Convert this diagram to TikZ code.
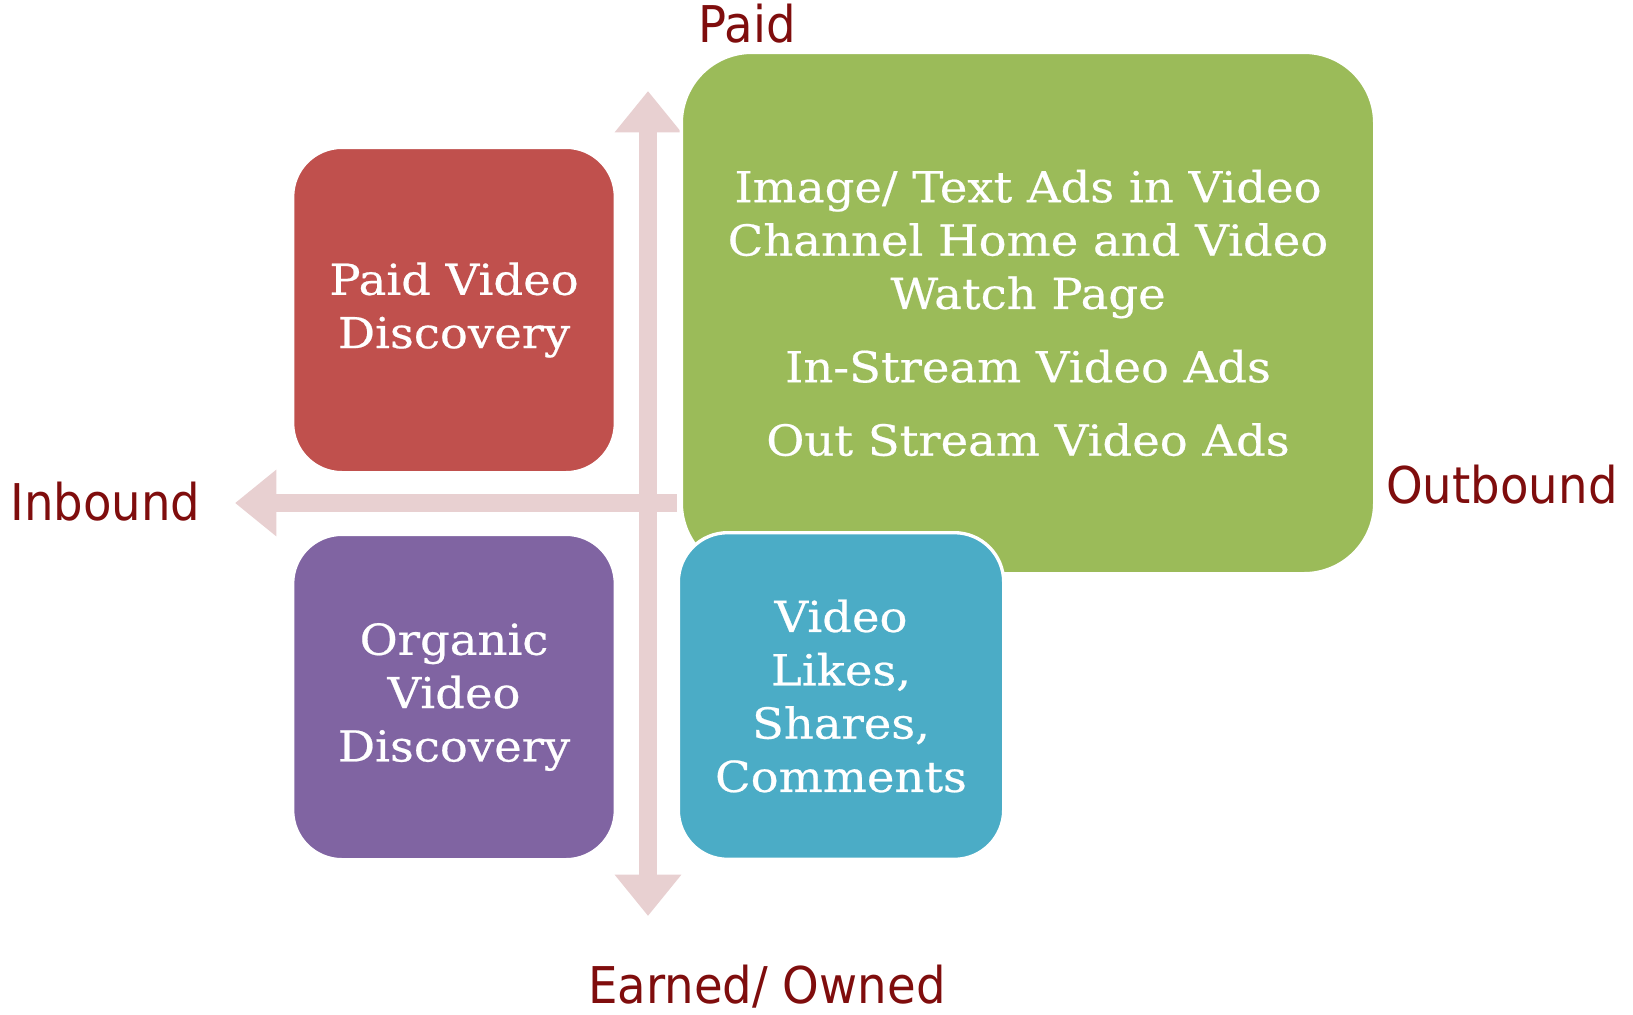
\documentclass[tikz,border=0pt]{standalone}
\usepackage{fontspec}
\newfontfamily\axisfont[FakeStretch=0.92]{DejaVu Sans}
\newfontfamily\boxfont[FakeStretch=1.09, FakeBold=0.5]{DejaVu Serif}
\usetikzlibrary{arrows.meta}

\definecolor{paidRed}{HTML}{C0504D}
\definecolor{organicPurple}{HTML}{8064A2}
\definecolor{outGreen}{HTML}{9BBB59}
\definecolor{earnedBlue}{HTML}{4BACC6}
\definecolor{axisPink}{HTML}{E8D0D1}
\definecolor{labelRed}{HTML}{7F0D0D}

\tikzset{
  bigTip/.tip={Triangle[length=31pt, width=48pt]},
  axis/.style={draw=axisPink, line width=13.5pt},
  quad/.style={rounded corners=37pt, draw=white, line width=2.5pt, text=white, align=center,
    minimum width=242pt, minimum height=244pt, font=\boxfont\fontsize{32}{40}\selectfont},
  axislabel/.style={text=labelRed, inner sep=0pt, font=\axisfont\fontsize{38}{46}\selectfont}
}

\begin{document}
\begin{tikzpicture}[x=0.75pt, y=-0.75pt]
      \useasboundingbox (0,0) rectangle (1633,1014);

      % eixos
      \coordinate (top) at (648,91);
      \coordinate (bottom) at (648,916);
      \coordinate (west) at (235,503);
      \coordinate (east) at (677,503);
      \draw[axis, bigTip-bigTip] (bottom) -- (top);
      \draw[axis, -bigTip] (east) -- (west);

      \node[quad, fill=paidRed] (paidBox) at (454,310) {Paid Video\\Discovery};
      \node[quad, fill=organicPurple] (organicBox) at (454,697) {Organic\\Video\\Discovery};
      \node[quad, fill=outGreen, rounded corners=53pt, minimum width=520pt, minimum height=391pt] (outboundBox) at (1028,313)
        {Image/ Text Ads in Video\\Channel Home and Video\\Watch Page\\[15pt]In-Stream Video Ads\\[15pt]Out Stream Video Ads};
      \node[quad, fill=earnedBlue, minimum width=244pt, minimum height=245pt] (earnedBox) at (841,696) {Video\\Likes,\\Shares,\\Comments};

      % rotulos
      \node[axislabel, anchor=base] (paidLabel) at (747,42) {Paid};
      \node[axislabel, anchor=base west] (outLabel) at (1386,503) {Outbound};
      \node[axislabel, anchor=base west] (inLabel) at (10,520) {Inbound};
      \node[axislabel, anchor=base west] (earnedLabel) at (588,1003) {Earned/ Owned};
\end{tikzpicture}
\end{document}
